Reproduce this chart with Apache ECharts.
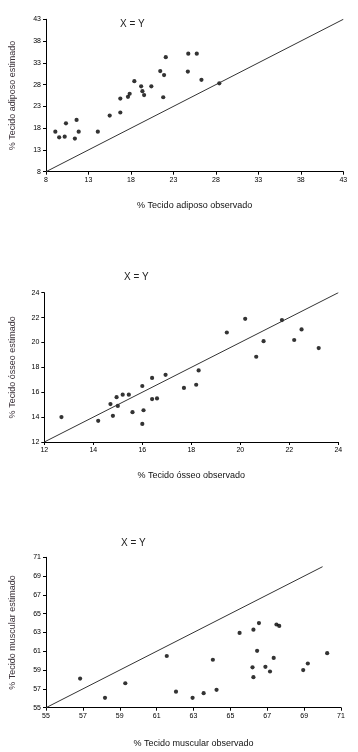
<!DOCTYPE html>
<html><head><meta charset="utf-8">
<script src="https://cdn.jsdelivr.net/npm/echarts@6/dist/echarts.min.js"></script>
<style>html,body{margin:0;padding:0;background:#fff}#c{width:358px;height:752px}</style>
</head><body><div id="c"></div>
<script>
// Chart 1: adipose tissue
const adiposoObs = [9.1,9.55,10.2,10.35,11.4,11.6,11.85,14.1,15.5,16.75,16.75,17.65,17.85,18.4,19.2,19.35,19.55,20.4,21.45,21.9,21.8,22.1,24.7,24.75,25.75,26.3,28.4];
const adiposoEst = [17.2,15.9,16.05,19.1,15.6,19.9,17.2,17.2,20.9,21.6,24.8,25.2,25.9,28.8,27.6,26.5,25.6,27.6,31.1,30.2,25.1,34.3,31.0,35.1,35.1,29.1,28.3];
const adiposoTicks = [8,13,18,23,28,33,38,43];
// Chart 2: bone tissue
const osseoObs = [12.7,14.2,14.7,14.8,14.95,15.0,15.2,15.45,15.6,16.0,16.05,16.0,16.4,16.4,16.6,16.95,17.7,18.2,18.3,19.45,20.2,20.65,20.95,21.7,22.2,22.5,23.2];
const osseoEst = [14.0,13.7,15.05,14.1,15.6,14.9,15.8,15.8,14.4,16.5,14.55,13.45,17.15,15.45,15.5,17.4,16.35,16.6,17.75,20.8,21.9,18.85,20.1,21.8,20.2,21.05,19.55];
const osseoTicks = [12,14,16,18,20,22,24];
// Chart 3: muscle tissue
const muscObs = [56.85,58.2,59.3,61.55,62.05,62.95,63.55,64.05,64.25,65.5,66.2,66.25,66.25,66.45,66.55,66.9,67.15,67.35,67.5,67.65,68.95,69.2,70.25];
const muscEst = [58.1,56.05,57.6,60.5,56.7,56.05,56.55,60.1,56.9,62.95,59.3,63.3,58.25,61.05,64.0,59.35,58.85,60.3,63.85,63.7,59.0,59.7,60.8];
const muscTicks = [55,57,59,61,63,65,67,69,71];
// identity lines (X = Y)
const adiposoLine = [[8,8],[43,43]];
const osseoLine = [[12,12],[24,24]];
const muscLine = [[55,55],[70,70]];

const FONT = 'Liberation Sans, Arial, sans-serif';
function xAxis(idx, ticks, name, gap){
  return {type:'value', gridIndex:idx, min:ticks[0], max:ticks[ticks.length-1],
    name:name, nameLocation:'middle', nameGap:gap,
    nameTextStyle:{fontFamily:FONT,fontSize:9,color:'#111'},
    axisLine:{show:true,onZero:false,lineStyle:{color:'#000',width:1}},
    axisTick:{show:true,length:3,customValues:ticks,lineStyle:{color:'#000'}},
    axisLabel:{customValues:ticks,fontFamily:FONT,fontSize:7,color:'#000',margin:5},
    splitLine:{show:false}};
}
function yAxis(idx, ticks, name, gap){
  return {type:'value', gridIndex:idx, min:ticks[0], max:ticks[ticks.length-1],
    name:name, nameLocation:'middle', nameGap:gap, nameRotate:90,
    nameTextStyle:{fontFamily:FONT,fontSize:9,color:'#3a3038'},
    axisLine:{show:true,onZero:false,lineStyle:{color:'#000',width:1}},
    axisTick:{show:true,length:3,customValues:ticks,lineStyle:{color:'#000'}},
    axisLabel:{customValues:ticks,fontFamily:FONT,fontSize:7,color:'#000',margin:5},
    splitLine:{show:false}};
}
function pts(xs, ys){ return xs.map((v,i)=>[v,ys[i]]); }
const sym = 'circle', symSize = 4.2;
const chart = echarts.init(document.getElementById('c'), null, {renderer:'canvas'});
chart.setOption({
  animation:false,
  grid:[
    {left:42.7, top:19.3, width:300.6, height:152.4},
    {left:44.3, top:292.7, width:294, height:149.3},
    {left:40.7, top:557.3, width:300.3, height:150.4}
  ],
  xAxis:[
    xAxis(0, adiposoTicks, '% Tecido adiposo observado', 29),
    xAxis(1, osseoTicks, '% Tecido ósseo observado', 29),
    xAxis(2, muscTicks, '% Tecido muscular observado', 31)
  ],
  yAxis:[
    yAxis(0, adiposoTicks, '% Tecido adiposo estimado', 29),
    yAxis(1, osseoTicks, '% Tecido ósseo estimado', 27),
    yAxis(2, muscTicks, '% Tecido muscular estimado', 29)
  ],
  graphic:[
    {type:'text', left:120, top:19, style:{text:'X = Y', fontFamily:FONT, fontSize:10, fill:'#222'}},
    {type:'text', left:124, top:272, style:{text:'X = Y', fontFamily:FONT, fontSize:10, fill:'#222'}},
    {type:'text', left:121, top:538, style:{text:'X = Y', fontFamily:FONT, fontSize:10, fill:'#222'}}
  ],
  series:[
    {type:'line', xAxisIndex:0, yAxisIndex:0, data:adiposoLine, showSymbol:false, lineStyle:{color:'#333',width:1}, silent:true},
    {type:'scatter', xAxisIndex:0, yAxisIndex:0, data:pts(adiposoObs,adiposoEst), symbol:sym, symbolSize:symSize, itemStyle:{color:'#000'}},
    {type:'line', xAxisIndex:1, yAxisIndex:1, data:osseoLine, showSymbol:false, lineStyle:{color:'#333',width:1}, silent:true},
    {type:'scatter', xAxisIndex:1, yAxisIndex:1, data:pts(osseoObs,osseoEst), symbol:sym, symbolSize:symSize, itemStyle:{color:'#000'}},
    {type:'line', xAxisIndex:2, yAxisIndex:2, data:muscLine, showSymbol:false, lineStyle:{color:'#333',width:1}, silent:true},
    {type:'scatter', xAxisIndex:2, yAxisIndex:2, data:pts(muscObs,muscEst), symbol:sym, symbolSize:symSize, itemStyle:{color:'#000'}}
  ]
});
</script></body></html>
